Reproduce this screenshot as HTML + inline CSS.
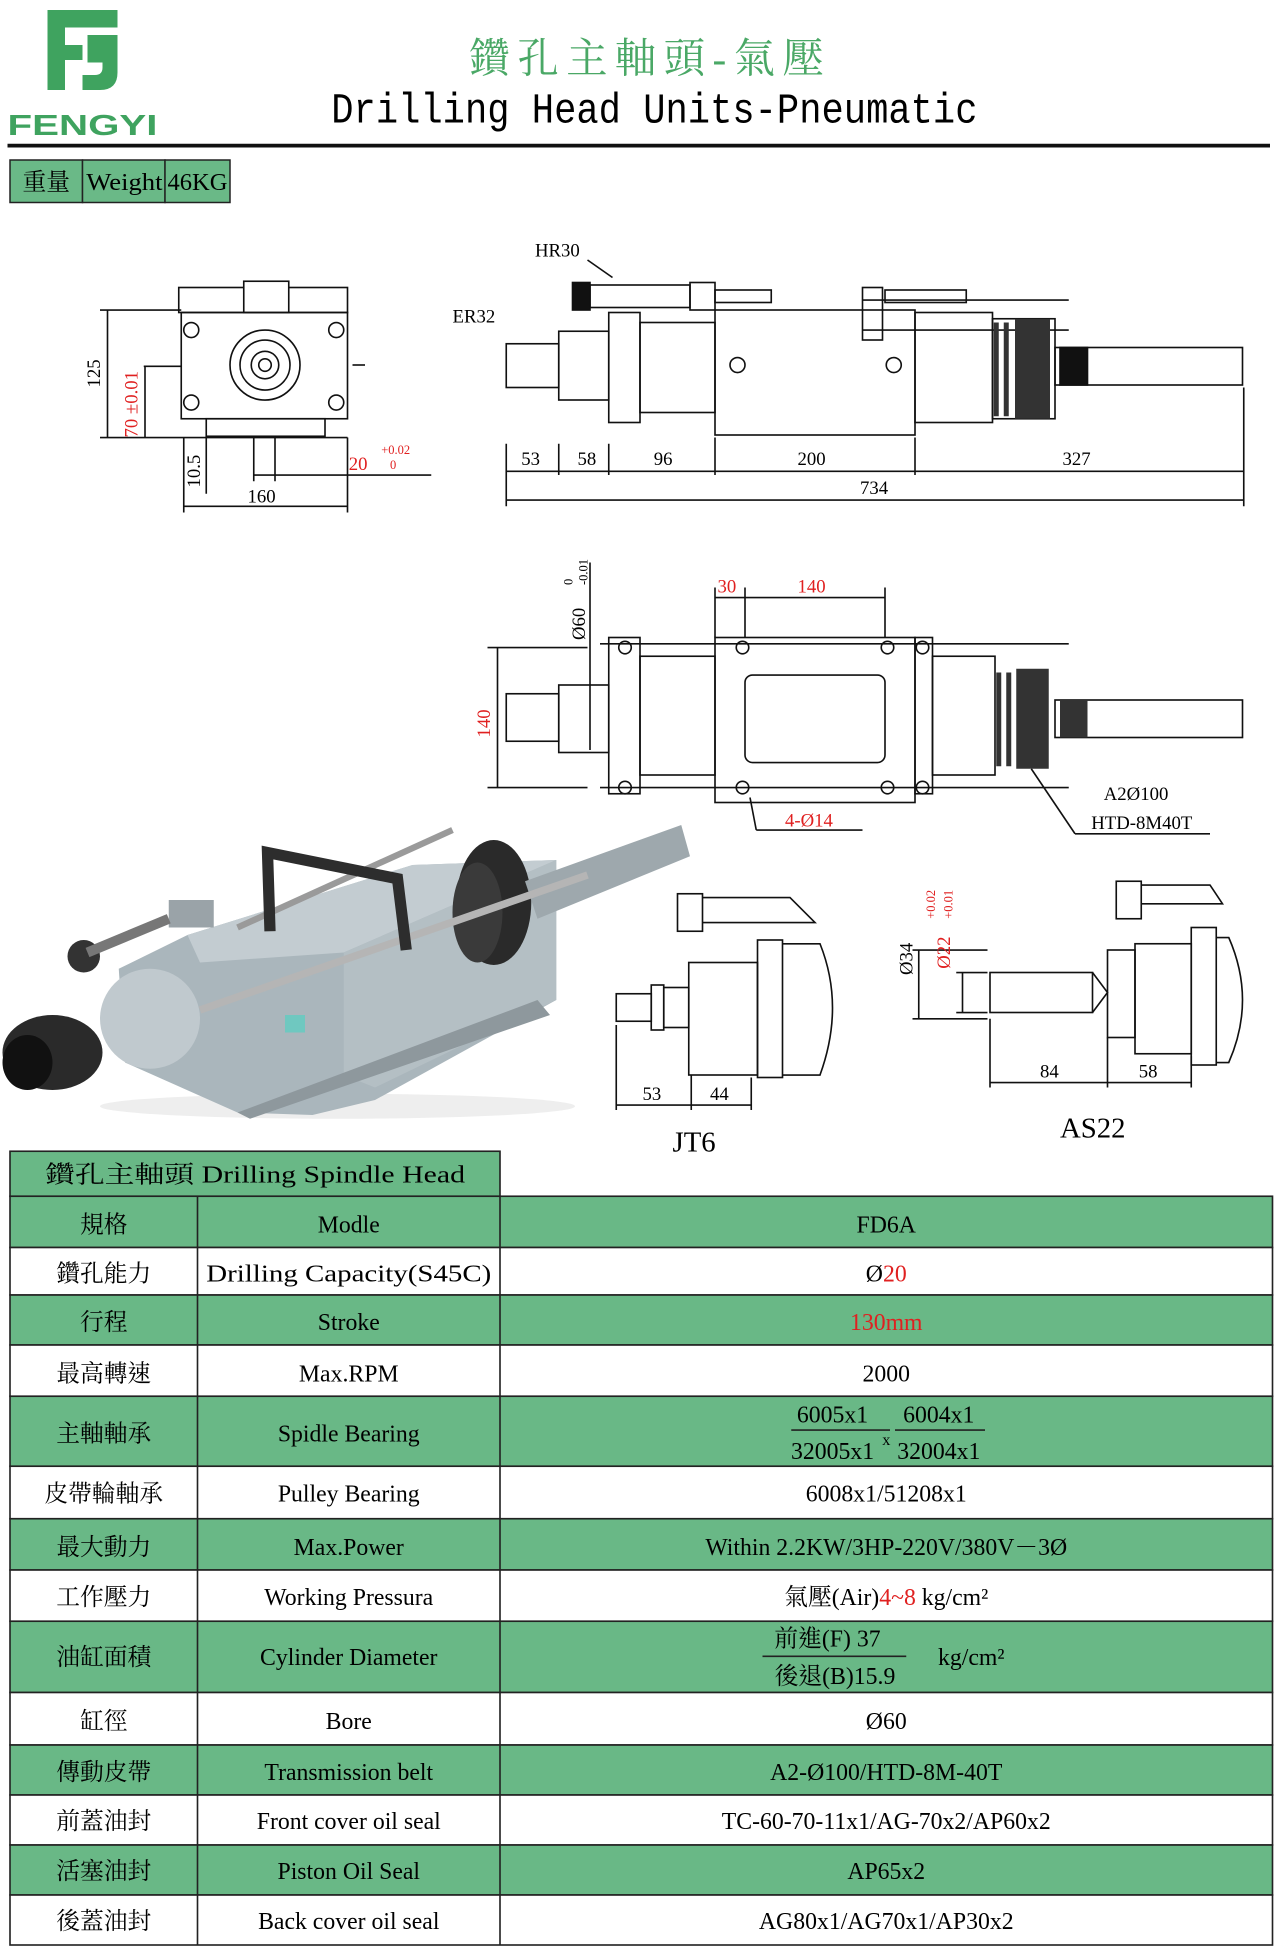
<!DOCTYPE html>
<html><head><meta charset="utf-8"><style>
html,body{margin:0;padding:0;background:#fff}
svg{display:block}
text{font-family:"Liberation Serif","Noto Serif CJK TC",serif}
.m{font-family:"Liberation Mono","Noto Serif CJK TC",monospace}
.d{font-size:15px}
.r{fill:#e02020}
.t{font-size:19px}
</style></head><body>
<svg width="1280" height="1960" viewBox="0 0 1024 1568" xmlns="http://www.w3.org/2000/svg">
<!-- logo -->
<g fill="#3fa35f">
<path d="M38 8h56v14H52v14h14v12H52v24H38z"/>
<path d="M70 28h12v20h0v-20h12v30q0 14-14 14H66V60h10q6 0 6-6v-4H70z"/>
</g>
<text x="6" y="108" font-family="Liberation Sans" font-weight="bold" font-size="23" fill="#3fa35f" textLength="120" lengthAdjust="spacingAndGlyphs" style="font-family:'Liberation Sans',sans-serif">FENGYI</text>
<text x="520" y="58" text-anchor="middle" font-size="33" fill="#4aa866" letter-spacing="6" style="font-family:'Liberation Serif','Noto Serif CJK TC',serif">鑽孔主軸頭-氣壓</text>
<text x="265" y="98" class="m" font-size="34" textLength="517" lengthAdjust="spacingAndGlyphs">Drilling Head Units-Pneumatic</text>
<rect x="6" y="115" width="1010" height="3" fill="#111"/>
<!-- weight -->
<g stroke="#222" stroke-width="1.2" fill="#6ab987">
<rect x="8" y="128" width="58" height="34"/><rect x="66" y="128" width="66" height="34"/><rect x="132" y="128" width="52" height="34"/>
</g>
<text x="18" y="152" class="t">重量</text>
<text x="69" y="152" class="t" textLength="61" lengthAdjust="spacingAndGlyphs">Weight</text>
<text x="134" y="152" class="t" textLength="48" lengthAdjust="spacingAndGlyphs">46KG</text>

<!-- front view -->
<g stroke="#111" stroke-width="1.3" fill="none">
<rect x="143" y="230" width="135" height="20"/>
<rect x="195" y="225" width="36" height="25" fill="#fff"/>
<rect x="145" y="250" width="133" height="85"/>
<circle cx="212" cy="292" r="28"/><circle cx="212" cy="292" r="20"/><circle cx="212" cy="292" r="11"/><circle cx="212" cy="292" r="5"/>
<circle cx="153" cy="264" r="6"/><circle cx="269" cy="264" r="6"/><circle cx="153" cy="322" r="6"/><circle cx="269" cy="322" r="6"/>
<rect x="165" y="335" width="95" height="14"/>
<line x1="80" y1="248" x2="145" y2="248"/><line x1="80" y1="350" x2="278" y2="350"/>
<line x1="86" y1="248" x2="86" y2="350"/><line x1="115" y1="293" x2="145" y2="293"/><line x1="116" y1="293" x2="116" y2="350"/>
<line x1="165" y1="350" x2="165" y2="395"/><line x1="147" y1="350" x2="147" y2="410"/><line x1="278" y1="350" x2="278" y2="410"/>
<line x1="147" y1="405" x2="278" y2="405"/>
<line x1="203" y1="350" x2="203" y2="385"/><line x1="220" y1="350" x2="220" y2="385"/><line x1="203" y1="380" x2="345" y2="380"/>
<line x1="282" y1="292" x2="292" y2="292"/>
</g>
<text x="80" y="310" class="d" transform="rotate(-90 80 310)">125</text>
<text x="110" y="350" class="d r" transform="rotate(-90 110 350)">70 ±0.01</text>
<text x="160" y="390" class="d" transform="rotate(-90 160 390)">10.5</text>
<text x="198" y="402" class="d">160</text>
<text x="279" y="376" class="d r">20</text>
<text x="305" y="363" font-size="10" class="r">+0.02</text>
<text x="312" y="375" font-size="10" class="r">0</text>

<!-- top side view -->
<g stroke="#111" stroke-width="1.3" fill="none">
<rect x="458" y="226" width="14" height="22" fill="#111"/>
<rect x="472" y="228" width="80" height="18"/>
<rect x="552" y="226" width="20" height="22"/><rect x="572" y="232" width="45" height="10"/>
<line x1="490" y1="222" x2="470" y2="208"/>
<rect x="405" y="275" width="42" height="35"/>
<rect x="447" y="265" width="40" height="55"/>
<rect x="487" y="250" width="25" height="88"/>
<rect x="512" y="258" width="60" height="72"/>
<rect x="572" y="248" width="160" height="100"/>
<rect x="732" y="250" width="62" height="88"/>
<rect x="794" y="255" width="50" height="80"/>
<line x1="690" y1="240" x2="855" y2="240"/><line x1="690" y1="264" x2="855" y2="264"/>
<rect x="844" y="278" width="150" height="30"/>
<rect x="848" y="278" width="22" height="30" fill="#111"/>
<rect x="690" y="230" width="16" height="42"/><rect x="708" y="232" width="65" height="10"/>
<circle cx="590" cy="292" r="6"/><circle cx="715" cy="292" r="6"/>
<line x1="405" y1="355" x2="405" y2="405"/><line x1="447" y1="355" x2="447" y2="380"/><line x1="487" y1="355" x2="487" y2="380"/>
<line x1="572" y1="350" x2="572" y2="380"/><line x1="732" y1="350" x2="732" y2="380"/><line x1="995" y1="310" x2="995" y2="405"/>
<line x1="405" y1="377" x2="995" y2="377"/><line x1="405" y1="400" x2="995" y2="400"/>
</g>
<g fill="#111"><path d="M795 258h4v75h-4z M803 258h4v75h-4z M812 255h28v80h-28z" fill="#333"/></g>
<text x="428" y="205" class="d" font-size="18">HR30</text>
<text x="362" y="258" class="d" font-size="18">ER32</text>
<text x="417" y="372" class="d">53</text><text x="462" y="372" class="d">58</text><text x="523" y="372" class="d">96</text>
<text x="638" y="372" class="d">200</text><text x="850" y="372" class="d">327</text><text x="688" y="395" class="d">734</text>

<!-- middle view -->
<g stroke="#111" stroke-width="1.3" fill="none">
<rect x="405" y="555" width="42" height="38"/>
<rect x="447" y="548" width="40" height="54"/>
<rect x="487" y="510" width="25" height="125"/>
<rect x="512" y="525" width="60" height="95"/>
<rect x="572" y="510" width="160" height="132"/>
<rect x="596" y="540" width="112" height="70" rx="6"/>
<rect x="732" y="510" width="14" height="125"/>
<rect x="746" y="525" width="50" height="95"/>
<line x1="480" y1="515" x2="855" y2="515"/><line x1="480" y1="630" x2="855" y2="630"/>
<rect x="844" y="560" width="150" height="30"/>
<circle cx="594" cy="518" r="5"/><circle cx="710" cy="518" r="5"/><circle cx="594" cy="630" r="5"/><circle cx="710" cy="630" r="5"/>
<circle cx="500" cy="518" r="5"/><circle cx="500" cy="630" r="5"/><circle cx="738" cy="518" r="5"/><circle cx="738" cy="630" r="5"/>
<line x1="390" y1="518" x2="470" y2="518"/><line x1="390" y1="630" x2="470" y2="630"/><line x1="398" y1="518" x2="398" y2="630"/>
<line x1="472" y1="450" x2="472" y2="600"/><line x1="572" y1="470" x2="572" y2="510"/><line x1="596" y1="470" x2="596" y2="510"/><line x1="708" y1="470" x2="708" y2="510"/>
<line x1="572" y1="478" x2="708" y2="478"/>
<line x1="600" y1="638" x2="605" y2="664"/><line x1="605" y1="664" x2="690" y2="664"/>
<line x1="825" y1="615" x2="860" y2="667"/><line x1="860" y1="667" x2="968" y2="667"/>
</g>
<path d="M797 538h4v75h-4zM805 538h4v75h-4zM813 535h26v80h-26z M848 560h22v30h-22z" fill="#333"/>
<text x="392" y="590" class="d r" transform="rotate(-90 392 590)">140</text>
<text x="468" y="512" class="d" transform="rotate(-90 468 512)">Ø60</text>
<text x="458" y="468" font-size="10" transform="rotate(-90 458 468)">0</text>
<text x="470" y="468" font-size="10" transform="rotate(-90 470 468)">-0.01</text>
<text x="574" y="474" class="d r">30</text><text x="638" y="474" class="d r">140</text>
<text x="628" y="661" class="d r">4-Ø14</text>
<text x="883" y="640" class="d" font-size="17">A2Ø100</text>
<text x="873" y="663" class="d" font-size="17">HTD-8M40T</text>

<!-- 3D render -->
<g>
<ellipse cx="270" cy="885" rx="190" ry="10" fill="#eee"/>
<polygon points="95,775 150,748 330,692 445,688 445,800 300,880 250,892 190,890 100,850" fill="#aab6bc"/>
<polygon points="150,748 330,692 445,688 275,762 160,770" fill="#c3ccd1"/>
<polygon points="275,762 445,688 445,800 300,870 275,860" fill="#b4bfc4"/>
<polygon points="190,890 430,800 440,812 200,895" fill="#8e989d"/>
<circle cx="120" cy="815" r="40" fill="#c0c9ce"/>
<ellipse cx="395" cy="722" rx="30" ry="50" fill="#2a2a2a"/>
<ellipse cx="382" cy="730" rx="20" ry="40" fill="#3a3a3a"/>
<polygon points="420,705 545,660 552,685 430,735" fill="#9ea8ad"/>
<line x1="190" y1="742" x2="362" y2="664" stroke="#9a9a9a" stroke-width="5"/>
<line x1="160" y1="808" x2="470" y2="700" stroke="#b5b5b5" stroke-width="6"/>
<polyline points="216,745 214,682 318,703 325,760" fill="none" stroke="#2d2d2d" stroke-width="9"/>
<rect x="135" y="720" width="36" height="22" fill="#9aa3a8"/>
<circle cx="67" cy="765" r="13" fill="#333"/>
<line x1="70" y1="762" x2="135" y2="735" stroke="#777" stroke-width="8"/>
<ellipse cx="42" cy="842" rx="40" ry="30" fill="#2a2a2a"/>
<ellipse cx="22" cy="850" rx="20" ry="22" fill="#111"/>
<rect x="228" y="812" width="16" height="14" fill="#6fc8c0"/>
</g>

<!-- JT6 -->
<g stroke="#111" stroke-width="1.3" fill="none">
<rect x="542" y="715" width="20" height="30"/><path d="M562 718h70l20 20h-90"/>
<rect x="493" y="795" width="28" height="22"/><rect x="521" y="788" width="10" height="36"/><rect x="531" y="790" width="20" height="32"/>
<rect x="551" y="770" width="55" height="90"/><rect x="606" y="752" width="20" height="110"/>
<path d="M626 755h30q20 50 0 105h-30"/>
<line x1="493" y1="820" x2="493" y2="888"/><line x1="553" y1="860" x2="553" y2="888"/><line x1="601" y1="862" x2="601" y2="888"/>
<line x1="493" y1="884" x2="601" y2="884"/>
</g>
<text x="514" y="880" class="d">53</text><text x="568" y="880" class="d">44</text>
<text x="538" y="921" font-size="23">JT6</text>

<!-- AS22 -->
<g stroke="#111" stroke-width="1.3" fill="none">
<rect x="893" y="705" width="20" height="30"/><path d="M913 708h55l10 15h-65"/>
<rect x="792" y="778" width="82" height="32"/><path d="M874 778l12 16l-12 16"/>
<rect x="886" y="760" width="22" height="70"/><rect x="908" y="755" width="45" height="88"/><rect x="953" y="742" width="20" height="110"/>
<path d="M973 750h10q22 50 0 100h-10"/>
<line x1="730" y1="760" x2="790" y2="760"/><line x1="730" y1="815" x2="790" y2="815"/>
<line x1="735" y1="760" x2="735" y2="815"/><line x1="765" y1="778" x2="790" y2="778"/><line x1="765" y1="810" x2="790" y2="810"/><line x1="770" y1="778" x2="770" y2="810"/>
<line x1="792" y1="815" x2="792" y2="870"/><line x1="886" y1="830" x2="886" y2="870"/><line x1="953" y1="845" x2="953" y2="870"/>
<line x1="792" y1="866" x2="953" y2="866"/>
</g>
<text x="730" y="780" class="d" transform="rotate(-90 730 780)">Ø34</text>
<text x="760" y="775" class="d r" transform="rotate(-90 760 775)">Ø22</text>
<text x="748" y="735" font-size="10" class="r" transform="rotate(-90 748 735)">+0.02</text>
<text x="762" y="735" font-size="10" class="r" transform="rotate(-90 762 735)">+0.01</text>
<text x="832" y="862" class="d">84</text><text x="911" y="862" class="d">58</text>
<text x="848" y="910" font-size="23">AS22</text>

<!-- table -->
<g stroke="#222" stroke-width="1.3">
<rect x="8" y="921" width="392" height="36" fill="#69b886"/>
<rect x="8" y="957" width="1010" height="41" fill="#69b886"/>
<rect x="8" y="998" width="1010" height="38" fill="#fff"/>
<rect x="8" y="1036" width="1010" height="40" fill="#69b886"/>
<rect x="8" y="1076" width="1010" height="41" fill="#fff"/>
<rect x="8" y="1117" width="1010" height="56" fill="#69b886"/>
<rect x="8" y="1173" width="1010" height="42" fill="#fff"/>
<rect x="8" y="1215" width="1010" height="41" fill="#69b886"/>
<rect x="8" y="1256" width="1010" height="41" fill="#fff"/>
<rect x="8" y="1297" width="1010" height="57" fill="#69b886"/>
<rect x="8" y="1354" width="1010" height="42" fill="#fff"/>
<rect x="8" y="1396" width="1010" height="40" fill="#69b886"/>
<rect x="8" y="1436" width="1010" height="40" fill="#fff"/>
<rect x="8" y="1476" width="1010" height="40" fill="#69b886"/>
<rect x="8" y="1516" width="1010" height="40" fill="#fff"/>
<line x1="158" y1="957" x2="158" y2="1556"/><line x1="400" y1="957" x2="400" y2="1556"/>
<line x1="633" y1="1144" x2="712" y2="1144"/><line x1="716" y1="1144" x2="788" y2="1144"/>
<line x1="610" y1="1325" x2="725" y2="1325"/>
</g>
<g font-size="19" text-anchor="middle">
<text x="204" y="946" textLength="336" lengthAdjust="spacingAndGlyphs">鑽孔主軸頭 Drilling Spindle Head</text>
<text x="83" y="986">規格</text><text x="279" y="986">Modle</text><text x="709" y="986">FD6A</text>
<text x="83" y="1025">鑽孔能力</text><text x="279" y="1025" textLength="228" lengthAdjust="spacingAndGlyphs">Drilling Capacity(S45C)</text><text x="709" y="1025">Ø<tspan class="r">20</tspan></text>
<text x="83" y="1064">行程</text><text x="279" y="1064">Stroke</text><text x="709" y="1064" class="r">130mm</text>
<text x="83" y="1105">最高轉速</text><text x="279" y="1105">Max.RPM</text><text x="709" y="1105">2000</text>
<text x="83" y="1153">主軸軸承</text><text x="279" y="1153">Spidle Bearing</text>
<text x="666" y="1138">6005x1</text><text x="751" y="1138">6004x1</text>
<text x="666" y="1167">32005x1</text><text x="709" y="1156" font-size="13">x</text><text x="751" y="1167">32004x1</text>
<text x="83" y="1201">皮帶輪軸承</text><text x="279" y="1201">Pulley Bearing</text><text x="709" y="1201">6008x1/51208x1</text>
<text x="83" y="1244">最大動力</text><text x="279" y="1244">Max.Power</text><text x="709" y="1244">Within 2.2KW/3HP-220V/380V－3Ø</text>
<text x="83" y="1284">工作壓力</text><text x="279" y="1284">Working Pressura</text><text x="709" y="1284">氣壓(Air)<tspan class="r">4~8</tspan> kg/cm²</text>
<text x="83" y="1332">油缸面積</text><text x="279" y="1332">Cylinder Diameter</text>
<text x="662" y="1317">前進(F) 37</text><text x="668" y="1347">後退(B)15.9</text><text x="777" y="1332">kg/cm²</text>
<text x="83" y="1383">缸徑</text><text x="279" y="1383">Bore</text><text x="709" y="1383">Ø60</text>
<text x="83" y="1424">傳動皮帶</text><text x="279" y="1424">Transmission belt</text><text x="709" y="1424">A2-Ø100/HTD-8M-40T</text>
<text x="83" y="1463">前蓋油封</text><text x="279" y="1463">Front cover oil seal</text><text x="709" y="1463">TC-60-70-11x1/AG-70x2/AP60x2</text>
<text x="83" y="1503">活塞油封</text><text x="279" y="1503">Piston Oil Seal</text><text x="709" y="1503">AP65x2</text>
<text x="83" y="1543">後蓋油封</text><text x="279" y="1543">Back cover oil seal</text><text x="709" y="1543">AG80x1/AG70x1/AP30x2</text>
</g>
</svg>
</body></html>
